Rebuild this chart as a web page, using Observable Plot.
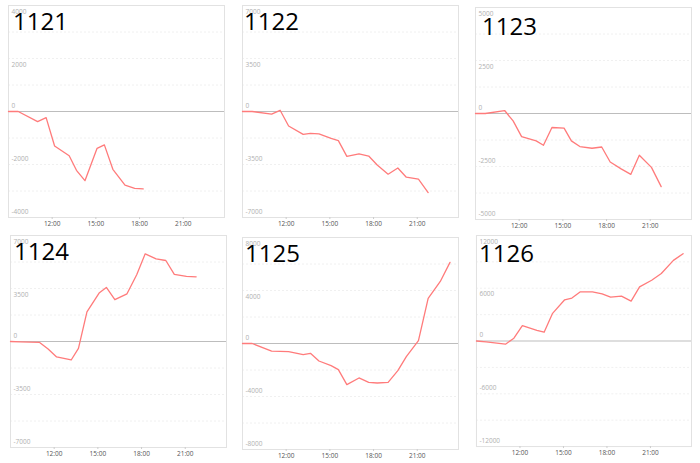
<!DOCTYPE html>
<html>
<head>
<meta charset="utf-8">
<script src="https://cdn.jsdelivr.net/npm/d3@7"></script>
<script src="https://cdn.jsdelivr.net/npm/@observablehq/plot@0.6"></script>
<style>
  html, body { margin: 0; padding: 0; background: #fff; }
  #root { position: relative; width: 700px; height: 463px; overflow: hidden; }
  .panel { position: absolute; }
  .title { position: absolute; font-family: "Open Sans", sans-serif; font-size: 24px; line-height: 24px; color: #000; pointer-events: none; }
</style>
</head>
<body>
<div id="root"></div>
<script>
const times = ["09:00","09:40","11:00","11:35","12:10","13:10","13:40","14:15","15:05","15:35","16:10","17:00","17:40","18:15","19:00","19:40","20:15","21:05","21:45","22:35","23:15"];
const xTickLabels = ["12:00","15:00","18:00","21:00"];
const names = ["1121","1122","1123","1124","1125","1126"];
const yMax = [4000, 7000, 5000, 7000, 8000, 12000];

const v1121 = [0, 0, -380, -230, -1300, -1670, -2220, -2610, -1390, -1260, -2180, -2780, -2900, -2920];
const v1122 = [0, 0, -170, 80, -960, -1510, -1440, -1480, -1770, -1920, -2960, -2800, -2940, -3530, -4140, -3730, -4340, -4470, -5350];
const v1123 = [0, 0, 140, -350, -1090, -1290, -1500, -660, -690, -1290, -1560, -1640, -1580, -2290, -2610, -2870, -1970, -2540, -3450];
const v1124 = [0, -20, -60, -500, -1020, -1220, -450, 1950, 3200, 3570, 2760, 3150, 4410, 5790, 5460, 5350, 4430, 4300, 4270];
const v1125 = [0, 0, -570, -590, -620, -840, -740, -1320, -1670, -1970, -3100, -2600, -2930, -2980, -2930, -2050, -990, 210, 3400, 4680, 6120];
const v1126 = [0, -90, -360, 320, 1750, 1220, 1000, 3150, 4690, 4880, 5590, 5590, 5370, 4990, 5100, 4540, 6160, 6910, 7670, 9170, 9930];
const series = [v1121, v1122, v1123, v1124, v1125, v1126];

// layout (styles only)
const panelPos = [[0,0],[234,0],[467,2],[2,230],[234,232],[468,230]];
const titlePos = [[13,9],[244,9],[482,14],[14,239],[245,241],[479,241]];

const parse = d3.utcParse("%H:%M");
const fmt = d3.utcFormat("%H:%M");
const root = document.getElementById("root");

names.forEach((name, i) => {
  const M = yMax[i];
  const data = series[i].map((v, j) => ({t: parse(times[j]), v}));
  const labels = [M, M/2, 0, -M/2, -M];
  const grid = [-3,-2,-1,1,2,3].map(k => k*M/4);
  const chart = Plot.plot({
    width: 233, height: 231,
    marginLeft: 8, marginRight: 9, marginTop: 5, marginBottom: 14,
    style: {fontFamily: "'Open Sans', sans-serif", background: "transparent", overflow: "visible"},
    x: {type: "utc", domain: [parse("09:00"), parse("23:50")], label: null},
    y: {domain: [-M, M], label: null, axis: null},
    marks: [
      Plot.ruleY(grid, {stroke: "#f0f0f0", strokeDasharray: "2,2"}),
      Plot.frame({stroke: "#e2e2e2"}),
      Plot.ruleY([0], {stroke: "#bdbdbd", strokeWidth: 1.2}),
      Plot.text(labels.filter(d => d > 0), {y: d => d, text: d => String(d), frameAnchor: "left", textAnchor: "start", dx: 3, dy: 6, fill: "#b0b0b0", fontSize: 6.5}),
      Plot.text(labels.filter(d => d <= 0), {y: d => d, text: d => String(d), frameAnchor: "left", textAnchor: "start", dx: 3, dy: -6, fill: "#b0b0b0", fontSize: 6.5}),
      Plot.line(data, {x: "t", y: "v", stroke: "#ff7b7b", strokeWidth: 1.3}),
      Plot.axisX(xTickLabels.map(parse), {tickSize: 2, tickPadding: 1.5, tickFormat: fmt, fontSize: 6.5, fill: "#555", stroke: "#ccc", label: null})
    ]
  });
  const wrap = document.createElement("div");
  wrap.className = "panel";
  wrap.style.left = panelPos[i][0] + "px";
  wrap.style.top = panelPos[i][1] + "px";
  wrap.appendChild(chart);
  root.appendChild(wrap);
  const t = document.createElement("div");
  t.className = "title";
  t.textContent = name;
  t.style.left = titlePos[i][0] + "px";
  t.style.top = titlePos[i][1] + "px";
  root.appendChild(t);
});
</script>
</body>
</html>
